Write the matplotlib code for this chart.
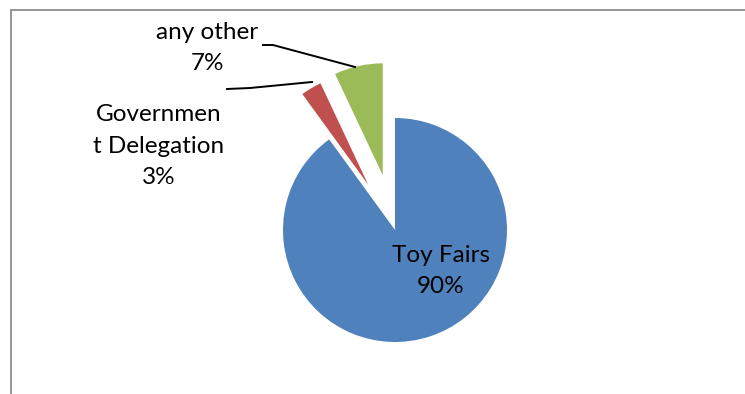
import matplotlib.pyplot as plt

# survey shares by channel
labels = ["Toy Fairs", "Governmen\nt Delegation", "any other"]
shares = [90, 3, 7]
colors = ["#4F81BD", "#C0504D", "#9BBB59"]
explode = [0, 0.47, 0.5]  # as a fraction of the radius

W, H = 745, 394
R = 112
fig = plt.figure(figsize=(W / 100, H / 100), dpi=100)
ax = fig.add_axes([0, 0, 1, 1])

# pie's explode is in data units, so scale by the radius
ax.pie(shares, colors=colors, explode=[e * R for e in explode], startangle=90,
       counterclock=False, center=(395, H - 230), radius=R, frame=True)
ax.set_xlim(0, W)
ax.set_ylim(0, H)
ax.set_aspect("equal")
ax.axis("off")

font = dict(family="Lato", fontsize=17.5, ha="center", va="center",
            linespacing=1.6, color="#000000")
txt = [f"{l}\n{s}%" for l, s in zip(labels, shares)]
ax.text(441, H - 271, txt[0], **font)
ax.text(159, H - 146, txt[1], **font)
ax.text(207, H - 48, txt[2], **font)

# leader lines
ax.plot([263, 273, 355], [H - 45, H - 45, H - 67], color="black", lw=1.4)
ax.plot([227, 250, 312], [H - 89, H - 88, H - 82], color="black", lw=1.4)

# chart border (left and top edges)
ax.plot([11, 11, W], [0, H - 10, H - 10], color="#8c8c8c", lw=1.3,
        solid_joinstyle="miter")

fig.savefig("out.png", dpi=100)
